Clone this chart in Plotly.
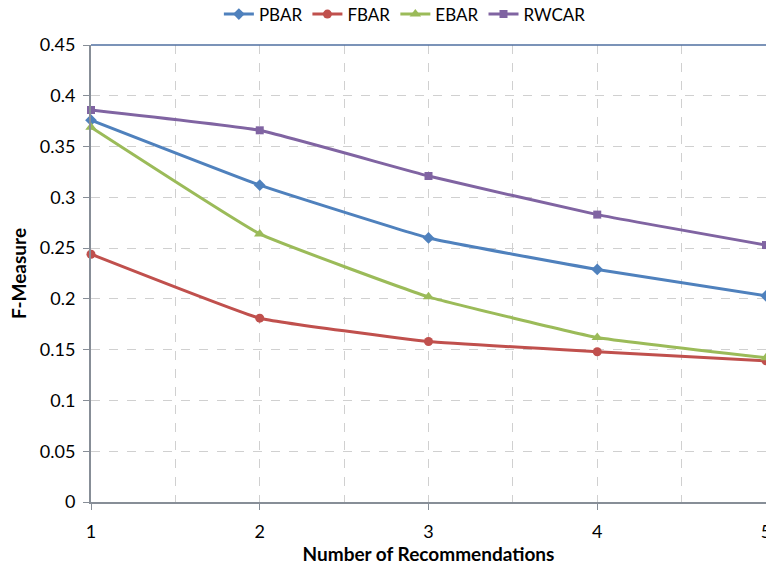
import plotly.graph_objects as go

# Number of recommendations (x) and F-Measure per method
recommendations = [1, 2, 3, 4, 5]
pbar = [0.376, 0.312, 0.260, 0.229, 0.203]
fbar = [0.244, 0.181, 0.158, 0.148, 0.139]
ebar = [0.369, 0.264, 0.202, 0.162, 0.142]
rwcar = [0.386, 0.366, 0.321, 0.283, 0.253]

series = [
    ("PBAR", pbar, "#4F81BD", "diamond", 9),
    ("FBAR", fbar, "#C0504D", "circle", 9),
    ("EBAR", ebar, "#9BBB59", "triangle-up", 10),
    ("RWCAR", rwcar, "#8064A2", "square", 8),
]

fig = go.Figure()
for name, vals, color, symbol, size in series:
    fig.add_trace(go.Scatter(
        x=recommendations, y=vals, name=name, mode="lines+markers",
        line=dict(color=color, width=3, shape="spline", smoothing=0.3),
        marker=dict(color=color, symbol=symbol, size=size),
        cliponaxis=False,
    ))

font_family = "Lato, 'Open Sans', sans-serif"
grid_color = "#D0D0D0"
axis_color = "#878E97"

fig.update_layout(
    width=766, height=570,
    margin=dict(l=91, r=0, t=45, b=68, autoexpand=False),
    paper_bgcolor="white", plot_bgcolor="white",
    font=dict(family=font_family, size=18, color="#000000"),
    showlegend=True,
    legend=dict(
        orientation="h", x=0.465, xanchor="center", y=1.106, yanchor="top",
        yref="paper", font=dict(size=17), itemwidth=30,
        traceorder="normal", bgcolor="rgba(0,0,0,0)",
    ),
    xaxis=dict(
        range=[1, 5], dtick=1, tick0=1, automargin=False,
        showline=True, linecolor=axis_color, linewidth=1.5,
        ticks="outside", ticklen=6, tickcolor=axis_color,
        ticklabelstandoff=7, ticklabeloverflow="allow",
        showgrid=True, gridcolor=grid_color, griddash="dash", gridwidth=1,
        minor=dict(dtick=0.5, tick0=1, showgrid=True, gridcolor=grid_color,
                   griddash="dash", gridwidth=1),
        zeroline=False,
        title=dict(text="<b>Number of Recommendations</b>", font=dict(size=19), standoff=6),
        tickfont=dict(size=18),
    ),
    yaxis=dict(
        range=[0, 0.45], dtick=0.05, tick0=0, automargin=False,
        showline=True, linecolor=axis_color, linewidth=2,
        ticks="outside", ticklen=6, tickcolor=axis_color,
        ticklabelstandoff=4,
        showgrid=True, gridcolor=grid_color, griddash="dash", gridwidth=1,
        zeroline=False,
        tickvals=[0, 0.05, 0.1, 0.15, 0.2, 0.25, 0.3, 0.35, 0.4, 0.45],
        ticktext=["0", "0.05", "0.1", "0.15", "0.2", "0.25", "0.3", "0.35", "0.4", "0.45"],
        title=dict(text="<b>F-Measure</b>", font=dict(size=19), standoff=8),
        tickfont=dict(size=18),
    ),
)

# Top border of the plotting area
fig.add_shape(type="line", xref="paper", yref="paper", x0=0, x1=1, y0=1, y1=1,
              line=dict(color="#4F6FA0", width=1.5))

fig.write_html("out.html")
